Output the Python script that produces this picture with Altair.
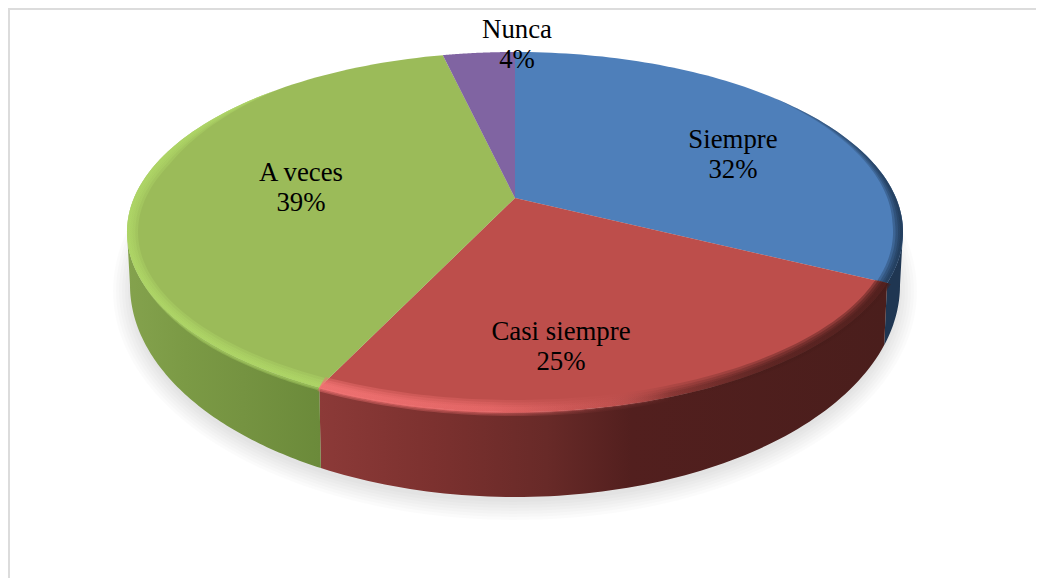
import numpy as np
import pandas as pd
import altair as alt

# ---- data ----
categories = ["Siempre", "Casi siempre", "A veces", "Nunca"]
values = [32.4, 24.6, 39.4, 3.6]
top_colors = ["#4e7fba", "#bd4e4b", "#9bbb59", "#8064a2"]

# ---- layout of the drawing ----
W, H = 1028, 570
OX, OY = 8, 8                # page margin
APEX_X, APEX_Y = 515, 198
K, A, B = 0.189, 173.6, 381.0
CY, RX, RY = 232, 388, 180
BCY, BRX, BRY = 285, 385, 212

label_pos = {"Siempre": (733, 155), "Casi siempre": (561, 347),
             "A veces": (301, 188), "Nunca": (517, 45)}

x_enc = alt.X("x:Q", scale=alt.Scale(domain=[OX, OX + W], nice=False, zero=False), axis=None)
y_enc = alt.Y("y:Q", scale=alt.Scale(domain=[OY + H, OY], nice=False, zero=False), axis=None)


def project(theta):
    u, v = np.sin(theta), np.cos(theta)
    w = 1 + K * v
    return APEX_X + B * u / w, APEX_Y - A * v / w


def phi_of(theta):
    x, y = project(theta)
    return np.arctan2((y - CY) / RY, (x - APEX_X) / RX) % (2 * np.pi)


def top_pt(phi, inset=0.0):
    return APEX_X + (RX - inset) * np.cos(phi), CY + (RY - inset) * np.sin(phi)


def bot_pt(phi):
    return APEX_X + BRX * np.cos(phi), BCY + BRY * np.sin(phi)


def poly(xs, ys, fill, opacity=1.0):
    df = pd.DataFrame({"x": np.round(xs, 2), "y": np.round(ys, 2), "i": np.arange(len(xs))})
    return alt.Chart(df).mark_line(fill=fill, stroke="transparent", strokeWidth=0,
                                   opacity=opacity, interpolate="linear").encode(
        x=x_enc, y=y_enc, order=alt.Order("i:Q"))


def hgrad(stops):
    return {"gradient": "linear", "x1": 0, "x2": 1, "y1": 0, "y2": 0,
            "stops": [{"offset": o, "color": c} for o, c in stops]}


def ellipse(cy, rx, ry, fill, opacity):
    p = np.linspace(0, 2 * np.pi, 181)
    return poly(APEX_X + rx * np.cos(p), cy + ry * np.sin(p), fill, opacity)


def wall(p0, p1, fill):
    p = np.linspace(p0, p1, 80)
    tx, ty = top_pt(p)
    bx, by = bot_pt(p)
    return poly(np.r_[tx, bx[::-1]], np.r_[ty, by[::-1]], fill)


def band(p0, p1, i0, i1, fill, taper_start=0.0, taper_end=0.0):
    """Strip of the top face between inset i0 and inset i1 from its outer edge."""
    p = np.linspace(p0, p1, 80)
    t = np.ones_like(p)
    if taper_start:
        t = np.minimum(t, (p - p0) / taper_start)
    if taper_end:
        t = np.minimum(t, (p1 - p) / taper_end)
    ox, oy = top_pt(p, i0 * t)
    ix, iy = top_pt(p, i1 * t)
    return poly(np.r_[ox, ix[::-1]], np.r_[oy, iy[::-1]], fill)


# slice boundaries
fracs = np.array(values) / sum(values)
edges = np.r_[0, np.cumsum(fracs)] * 2 * np.pi

layers = []

# frame
frame_color = "#dcdcdc"
layers.append(alt.Chart(pd.DataFrame({"a": [0]})).mark_rule(color=frame_color, strokeWidth=2).encode(
    x=alt.value(1), y=alt.value(0), y2=alt.value(H)))
layers.append(alt.Chart(pd.DataFrame({"a": [0]})).mark_rule(color=frame_color, strokeWidth=2).encode(
    y=alt.value(1), x=alt.value(0), x2=alt.value(W)))

# soft shadow
for d in [20, 17, 14, 11, 8, 5, 2]:
    layers.append(ellipse(BCY + 6, BRX + d - 3, BRY + d - 3, "#000000", 0.017))

# walls
phi_br = phi_of(edges[1])   # blue / red
phi_rg = phi_of(edges[2])   # red / green
layers.append(wall(0, phi_br, "#1f3652"))
layers.append(wall(phi_br, phi_rg, hgrad([(0, "#8c3a38"), (0.2, "#7c312f"), (0.4, "#682a28"),
                                          (0.55, "#521f1e"), (1, "#4a1e1c")])))
layers.append(wall(phi_rg, np.pi, hgrad([(0, "#84a24d"), (0.3, "#7b9a45"), (0.6, "#759341"), (1, "#6b8a3a")])))

# top face slices
for i, c in enumerate(top_colors):
    th = np.linspace(edges[i], edges[i + 1], 90)
    x, y = project(th)
    layers.append(poly(np.r_[APEX_X, x], np.r_[APEX_Y, y], c))

# bevel on the rim: blue, red, green, built up in soft strips
blue_dark = hgrad([(0, "rgba(28,52,80,0.08)"), (0.6, "rgba(28,52,80,0.22)"), (1, "rgba(28,52,80,0.38)")])
red_light = hgrad([(0, "rgba(245,118,118,0.40)"), (0.3, "rgba(240,110,110,0.28)"), (0.5, "rgba(220,100,100,0.05)"),
                   (0.62, "rgba(80,30,28,0.15)"), (0.8, "rgba(72,28,26,0.35)"), (1, "rgba(72,28,26,0.45)")])
green_light = hgrad([(0, "rgba(176,216,104,0.36)"), (1, "rgba(176,216,104,0.36)")])

for i1 in [10, 7.5, 5, 3]:
    layers.append(band(phi_of(edges[0] + 0.85) - 2 * np.pi, phi_br, 0, i1, blue_dark, taper_start=0.8))
    layers.append(band(phi_rg, np.radians(232), 0, i1 * 1.1, green_light, taper_end=0.5))
    layers.append(band(phi_br, phi_rg, -1.0, i1 + 2.0, red_light))

# highlight bleeding softly down onto the wall
for i0 in [-4, -2.5]:
    layers.append(band(phi_br, phi_rg, i0, 0, red_light))
    layers.append(band(phi_rg, np.radians(165), i0 * 0.8, 0, green_light, taper_end=0.4))

# labels
lab = pd.DataFrame({
    "x": [label_pos[c][0] for c in categories],
    "y": [label_pos[c][1] for c in categories],
    "name": categories,
    "pct": [f"{round(f * 100)}%" for f in fracs],
})
text = alt.Chart(lab).mark_text(font="Liberation Serif", fontSize=26.8, color="#000000", baseline="middle")
layers.append(text.encode(x=x_enc, y=y_enc, text="name:N", yOffset=alt.value(-15)))
layers.append(text.encode(x=x_enc, y=y_enc, text="pct:N", yOffset=alt.value(15)))

chart = alt.layer(*layers).properties(
    width=W, height=H, padding=0, autosize=alt.AutoSizeParams(type="none"),
    background="white",
).configure_view(stroke=None)

chart.save("out.html", embed_options={"renderer": "svg", "actions": False})
